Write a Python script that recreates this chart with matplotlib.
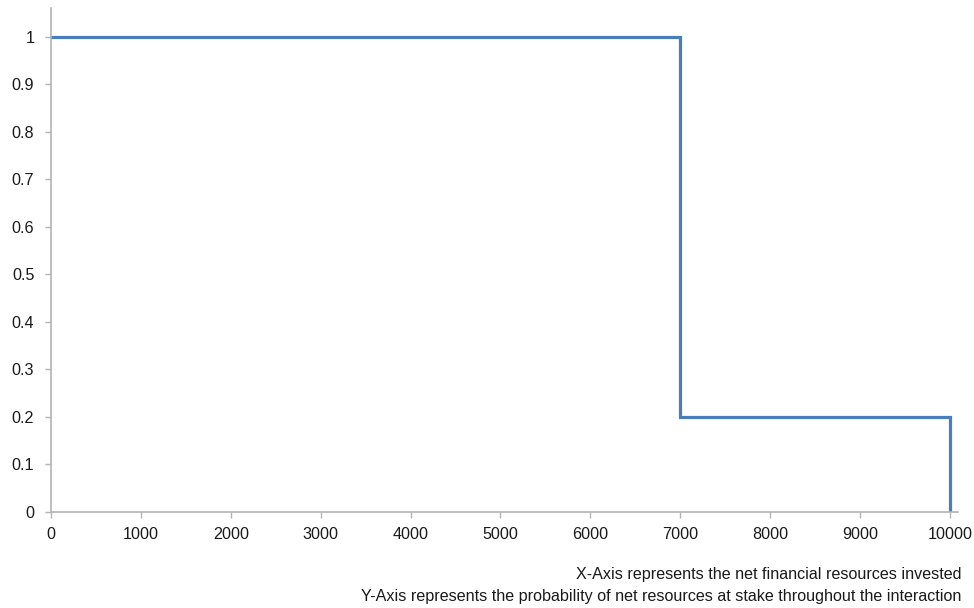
import matplotlib.pyplot as plt

# Step points of the probability curve
x_vals = [0, 7000, 7000, 10000, 10000]
y_vals = [1, 1, 0.2, 0.2, 0]
x_ticks = [0, 1000, 2000, 3000, 4000, 5000, 6000, 7000, 8000, 9000, 10000]
y_ticks = [0, 0.1, 0.2, 0.3, 0.4, 0.5, 0.6, 0.7, 0.8, 0.9, 1]
y_labels = ["0", "0.1", "0.2", "0.3", "0.4", "0.5", "0.6", "0.7", "0.8", "0.9", "1"]
caption = ["X-Axis represents the net financial resources invested",
           "Y-Axis represents the probability of net resources at stake throughout the interaction"]

plt.rcParams['font.family'] = ['Liberation Sans', 'DejaVu Sans']

fig = plt.figure(figsize=(9.74, 6.08), dpi=100)
# axes spans pixel x 51..958, y 8..512
ax = fig.add_axes([51 / 974, (608 - 512) / 608, (958 - 51) / 974, (512 - 8) / 608])

ax.plot(x_vals, y_vals, color='#4a7ebb', linewidth=2.3, solid_joinstyle='miter')

ax.set_xlim(0, 10090)
ax.set_ylim(0, 1.061)
ax.set_xticks(x_ticks)
ax.set_xticklabels([str(t) for t in x_ticks])
ax.set_yticks(y_ticks)
ax.set_yticklabels(y_labels)

for side in ['top', 'right']:
    ax.spines[side].set_visible(False)
for side in ['left', 'bottom']:
    ax.spines[side].set_color('#b3b3b3')
    ax.spines[side].set_linewidth(1.2)

ax.tick_params(axis='both', colors='#b3b3b3', length=4, width=1, labelsize=11.6,
               labelcolor='#1a1a1a')
ax.tick_params(axis='y', pad=8)
ax.tick_params(axis='x', pad=7)

fig.text(961 / 974, 1 - 575 / 608, caption[0], ha='right', va='center',
         fontsize=11.6, color='#1a1a1a')
fig.text(961 / 974, 1 - 596 / 608, caption[1], ha='right', va='center',
         fontsize=11.6, color='#1a1a1a')

fig.savefig('out.png', dpi=100)
